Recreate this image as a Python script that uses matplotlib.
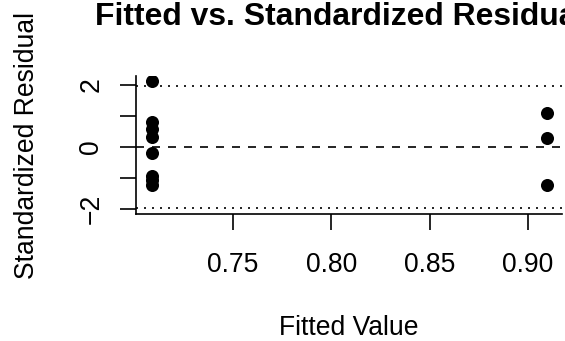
import matplotlib
matplotlib.use("Agg")
import matplotlib.pyplot as plt

# Fitted values and standardized residuals of the model
fitted = [0.7087, 0.7087, 0.7087, 0.7087, 0.7087, 0.7087, 0.7087, 0.7087,
          0.9094, 0.9094, 0.9094]
std_resid = [2.10, 0.81, 0.57, 0.32, -0.20, -0.93, -1.08, -1.24,
             1.07, 0.29, -1.23]

x_ticks = [0.75, 0.80, 0.85, 0.90]
x_tick_labels = ["0.75", "0.80", "0.85", "0.90"]
y_ticks = [-2, -1, 0, 1, 2]
y_tick_labels = ["\u22122", "", "0", "", "2"]
ref_bands = [-1.96, 1.96]

plt.rcParams['font.family'] = ['Liberation Sans', 'DejaVu Sans']

W, H = 565, 341
fig = plt.figure(figsize=(W / 100, H / 100), dpi=100)
left, right, top, bottom = 136, 562.4, 76.3, 214
ax = fig.add_axes([left / W, (H - bottom) / H, (right - left) / W, (bottom - top) / H])

lw = 1.2
ax.scatter(fitted, std_resid, s=9.4 ** 2, c='black', linewidths=0, zorder=3)
ax.axhline(0, color='black', lw=lw, linestyle=(0, (4.8, 4.8)))
for b in ref_bands:
    ax.axhline(b, color='black', lw=lw, linestyle=(0, (1.2, 3.6)))

# R-style 4% padding around the plotted range
xlo, xhi = min(fitted), max(fitted)
xpad = 0.04 * (xhi - xlo)
ax.set_xlim(xlo - xpad, xhi + xpad)
ylo, yhi = min(-2, min(std_resid)), max(2, max(std_resid))
ypad = 0.04 * (yhi - ylo)
ax.set_ylim(ylo - ypad, yhi + ypad)

ax.set_xticks(x_ticks)
ax.set_xticklabels(x_tick_labels)
ax.set_yticks(y_ticks)
ax.set_yticklabels(y_tick_labels, rotation=90, va='center')

for s in ['top', 'right']:
    ax.spines[s].set_visible(False)
for s in ['left', 'bottom']:
    ax.spines[s].set_linewidth(lw)

fs = 19.1
ax.tick_params(axis='both', direction='out', length=11.5, width=lw,
               labelsize=fs, colors='black')
ax.tick_params(axis='x', pad=15.6)
ax.tick_params(axis='y', pad=11.2)

ax.set_xlabel("Fitted Value", fontsize=fs)
ax.xaxis.label.set_va('baseline')
ax.xaxis.set_label_coords(0.5, ((H - 334.8) - (H - bottom)) / (bottom - top))
ax.set_ylabel("Standardized Residual", fontsize=fs)
ax.yaxis.label.set_va('baseline')
ax.yaxis.set_label_coords((34 - left) / (right - left), 0.5)

cx = (left + right) / 2 / W
fig.text(cx, 1 - 25 / H, "Fitted vs. Standardized Residuals", ha='center',
         va='baseline', fontsize=fs * 1.2, fontweight='bold')

fig.savefig("out.png", dpi=100, facecolor='white')
